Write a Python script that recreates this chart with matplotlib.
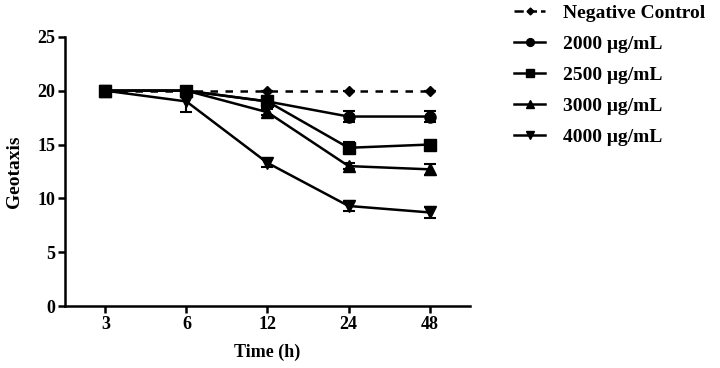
import numpy as np
import matplotlib
matplotlib.use('Agg')
import matplotlib.pyplot as plt
from matplotlib.lines import Line2D

plt.rcParams['font.family'] = ['Liberation Serif', 'DejaVu Serif']
plt.rcParams['font.weight'] = 'bold'

# data
times = ['3', '6', '12', '24', '48']
labels = ['Negative Control', '2000 μg/mL', '2500 μg/mL', '3000 μg/mL', '4000 μg/mL']
neg_ctrl = [20, 20, 20, 20, 20]
c2000 = [20, 20, 19.0, 17.6, 17.6]
c2500 = [20, 20, 19.0, 14.7, 15.0]
c3000 = [20, 20, 18.0, 13.0, 12.7]
c4000 = [20, 19.0, 13.3, 9.3, 8.7]
err_neg = [0, 0, 0, 0, 0]
err_2000 = [0, 0, 0.3, 0.5, 0.5]
err_2500 = [0, 0, 0.3, 0.5, 0.3]
err_3000 = [0, 0, 0.3, 0.3, 0.5]
err_4000 = [0, 1.0, 0.4, 0.5, 0.5]

series = [neg_ctrl, c2000, c2500, c3000, c4000]
errors = [err_neg, err_2000, err_2500, err_3000, err_4000]
markers = ['D', 'o', 's', '^', 'v']
msizes = [5, 8, 8, 8, 8]
styles = ['--', '-', '-', '-', '-']

fig = plt.figure(figsize=(7.2, 3.68), dpi=100)
ax = fig.add_axes([0.09, 0.168, 0.563, 0.732])

x = np.arange(len(times))
handles = []
for vals, err, m, ms, ls, lab in zip(series, errors, markers, msizes, styles, labels):
    ax.errorbar(x, vals, yerr=err, color='black', marker=m, markersize=ms,
                linestyle=ls, linewidth=1.8, capsize=4, elinewidth=1.5,
                capthick=1.5, dashes=(3, 3) if ls == '--' else (None, None))
    handles.append(Line2D([], [], color='black', marker=m, markersize=ms * 0.7,
                          linestyle=ls, linewidth=1.8, label=lab))

ax.set_xlim(-0.5, 4.5)
ax.set_ylim(0, 25)
ax.set_xticks(x)
ax.set_xticklabels(times)
ax.set_yticks([0, 5, 10, 15, 20, 25])
ax.set_xlabel('Time (h)', fontsize=13, fontweight='bold', labelpad=8)
ax.set_ylabel('Geotaxis', fontsize=14, fontweight='bold', labelpad=10)
ax.tick_params(labelsize=13, width=1.8, length=5, pad=2)
for s in ['top', 'right']:
    ax.spines[s].set_visible(False)
for s in ['left', 'bottom']:
    ax.spines[s].set_linewidth(1.8)

leg = fig.legend(handles=handles, loc='upper left', bbox_to_anchor=(0.69, 1.035),
                 frameon=False, fontsize=14, handlelength=1.6, handletextpad=0.9,
                 labelspacing=0.68)

fig.savefig('out.png', dpi=100)
